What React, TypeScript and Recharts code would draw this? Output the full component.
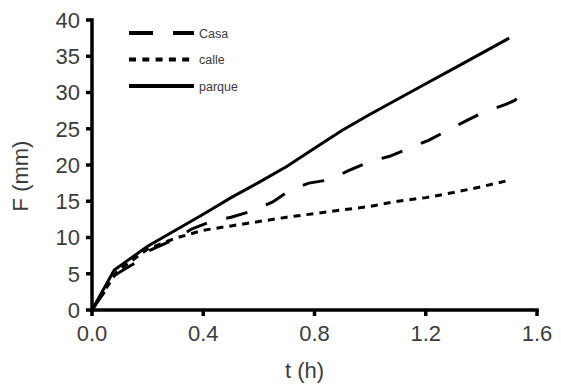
import React from "react";
import { LineChart, Line, XAxis, YAxis, Label } from "recharts";

// Infiltration depth F (mm) against time t (h) for three sites
const casaT = [0, 0.09, 0.16, 0.2, 0.3, 0.36, 0.42, 0.5, 0.57, 0.65, 0.71, 0.78, 0.86, 0.92, 1.0, 1.07, 1.14, 1.21, 1.28, 1.35, 1.41, 1.49, 1.52, 1.55];
const casaF = [0, 5.0, 6.6, 8.1, 9.8, 11.2, 12.1, 12.8, 13.6, 14.9, 16.5, 17.5, 18.0, 19.2, 20.5, 21.2, 22.3, 23.4, 24.8, 26.2, 27.3, 28.4, 28.9, 30.0];

const calleT = [0, 0.09, 0.2, 0.3, 0.4, 0.5, 0.6, 0.7, 0.8, 0.9, 1.0, 1.1, 1.2, 1.3, 1.4, 1.5];
const calleF = [0, 5.3, 8.4, 9.9, 11.0, 11.6, 12.2, 12.8, 13.3, 13.8, 14.3, 15.0, 15.5, 16.2, 17.0, 17.9];

const parqueT = [0, 0.08, 0.2, 0.3, 0.4, 0.5, 0.6, 0.7, 0.8, 0.9, 1.0, 1.1, 1.2, 1.3, 1.4, 1.5];
const parqueF = [0, 5.5, 8.8, 11.0, 13.2, 15.5, 17.6, 19.8, 22.3, 24.8, 27.0, 29.1, 31.2, 33.3, 35.4, 37.5];

const xTicks = [0, 0.4, 0.8, 1.2, 1.6];
const yTicks = [0, 5, 10, 15, 20, 25, 30, 35, 40];

const seriesNames = ["Casa", "calle", "parque"];
const seriesDash = ["22 20", "7 6", undefined];
const legendDash = ["24 20", "7 6.3", undefined];

const toRows = (ts: number[], fs: number[]) => ts.map((t, i) => ({ t, F: fs[i] }));
const seriesData = [toRows(casaT, casaF), toRows(calleT, calleF), toRows(parqueT, parqueF)];

const FONT = "'Liberation Sans', Arial, sans-serif";
const TEXT = "#3c3c3c";

// Key with line samples, laid over the upper-left of the plot
const LegendBox = () => (
  <svg width={140} height={80} style={{ position: "absolute", left: 129, top: 20 }}>
    {seriesNames.map((name, i) => {
      const y = 13 + i * 26.5;
      return (
        <g key={name}>
          <line x1={0} x2={65} y1={y} y2={y} stroke="#000" strokeWidth={4} strokeDasharray={legendDash[i]} />
          <text x={70} y={y + 4.5} fontSize={12.5} fill={TEXT} fontFamily={FONT}>
            {name}
          </text>
        </g>
      );
    })}
  </svg>
);

export default function App() {
  return (
    <div style={{ position: "fixed", left: 0, top: 0, width: 561, height: 385, background: "#fff" }}>
      <LineChart width={561} height={385} margin={{ top: 20, right: 24, left: 0, bottom: 0 }}>
        <XAxis
          dataKey="t"
          type="number"
          domain={[0, 1.6]}
          ticks={xTicks}
          tickFormatter={(v: number) => v.toFixed(1)}
          height={75}
          axisLine={{ stroke: "#000", strokeWidth: 3.5, strokeLinecap: "square" }}
          tickLine={{ stroke: "#000", strokeWidth: 3.5 }}
          tickSize={6}
          tickMargin={9}
          tick={{ fill: TEXT, fontSize: 22, fontFamily: FONT }}
          allowDuplicatedCategory={false}
        >
          <Label
            content={(props: any) => {
              const vb = props.viewBox;
              return (
                <text x={vb.x + vb.width / 2 - 10} y={vb.y + vb.height - 7} textAnchor="middle" fontSize={22} fill={TEXT} fontFamily={FONT}>
                  t (h)
                </text>
              );
            }}
          />
        </XAxis>
        <YAxis
          type="number"
          domain={[0, 40]}
          ticks={yTicks}
          width={92}
          axisLine={{ stroke: "#000", strokeWidth: 3.5, strokeLinecap: "square" }}
          tickLine={{ stroke: "#000", strokeWidth: 3.5 }}
          tickSize={6}
          tickMargin={6}
          tick={{ fill: TEXT, fontSize: 22, fontFamily: FONT }}
        >
          <Label
            content={(props: any) => {
              const vb = props.viewBox;
              const cx = vb.x + 28;
              const cy = vb.y + vb.height / 2 + 11;
              return (
                <text x={cx} y={cy} textAnchor="middle" fontSize={22} fill={TEXT} fontFamily={FONT} transform={`rotate(-90, ${cx}, ${cy})`}>
                  F (mm)
                </text>
              );
            }}
          />
        </YAxis>
        {seriesNames.map((name, i) => (
          <Line
            key={name}
            name={name}
            data={seriesData[i]}
            dataKey="F"
            type="linear"
            stroke="#000"
            strokeWidth={3}
            strokeDasharray={seriesDash[i]}
            dot={false}
            activeDot={false}
            isAnimationActive={false}
          />
        ))}
      </LineChart>
      <LegendBox />
    </div>
  );
}
